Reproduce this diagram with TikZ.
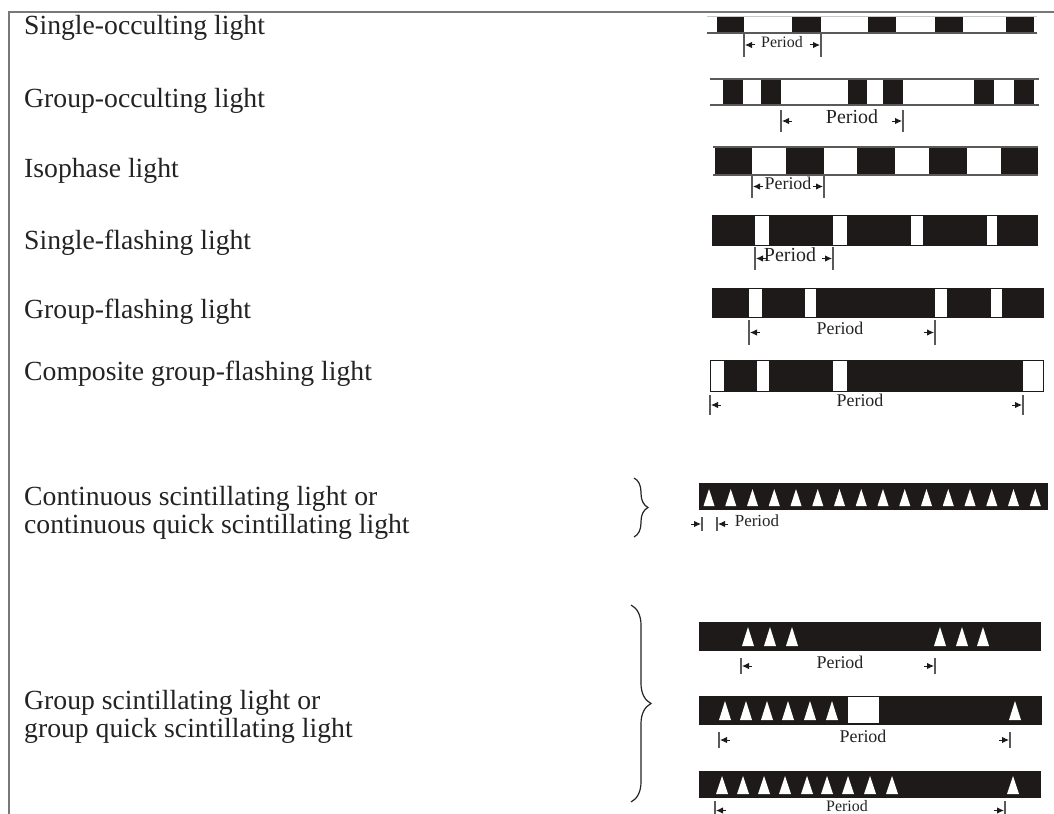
\documentclass[tikz,border=0pt]{standalone}
\usepackage{fontspec}
\setmainfont{Liberation Serif}
\usetikzlibrary{arrows.meta,decorations.pathreplacing}

\definecolor{ink}{RGB}{30,26,26}
\definecolor{framegray}{RGB}{120,120,120}
\definecolor{rulegray}{RGB}{90,90,90}
\definecolor{txt}{RGB}{35,35,35}

\tikzset{
  block/.style={fill=ink},
  gap/.style={fill=white},
  lamp/.style={fill=white},
  barline/.style={draw=rulegray, line width=1.2bp},
  faintline/.style={draw=black!22, line width=1bp},
  outline/.style={draw=ink, line width=1bp},
  tickline/.style={draw=rulegray, line width=1.1bp},
  parrow/.style={draw=ink, line width=1bp, -{Latex[length=7bp,width=6.5bp]}},
  caption/.style={font=\fontsize{27.8}{28}\selectfont, text=txt, inner sep=0pt,
                  anchor=base west, align=left},
  plabel/.style={font=\fontsize{#1}{#1}\selectfont, text=txt, inner sep=0pt, anchor=mid},
  bracket/.style={draw=txt, line width=1.2bp, decorate,
                  decoration={brace, amplitude=#1}},
}

% ticks at x=#1 and x=#2 between y=#3 and y=#4, arrows pointing out to the ticks
\newcommand\PeriodMarks[4]{%
  \draw[tickline] (#1,#3) -- (#1,#4);
  \draw[tickline] (#2,#3) -- (#2,#4);
  \draw[parrow] (#1+11,{(#3+#4)/2}) -- (#1+1,{(#3+#4)/2});
  \draw[parrow] (#2-11,{(#3+#4)/2}) -- (#2-1,{(#3+#4)/2});
}

\begin{document}
\begin{tikzpicture}[x=1bp,y=-1bp]
\useasboundingbox (0,0) rectangle (1054,814);
\clip (0,0) rectangle (1054,814);

% page frame
\draw[framegray, line width=2bp] (9,816) -- (9,12) -- (1056,12);

% ---------- captions ----------
\node[caption] (c1) at (24,35)  {Single-occulting light};
\node[caption] (c2) at (24,107) {Group-occulting light};
\node[caption] (c3) at (24,177) {Isophase light};
\node[caption] (c4) at (24,249) {Single-flashing light};
\node[caption] (c5) at (24,318) {Group-flashing light};
\node[caption] (c6) at (24,380) {Composite group-flashing light};
\node[caption] (c7) at (24,533) {Continuous scintillating light or\\continuous quick scintillating light};
\node[caption] (c8) at (24,737) {Group scintillating light or\\group quick scintillating light};

% ---------- single-occulting ----------
\draw[faintline] (707,17) -- (1037,17);
\foreach \a/\b in {717/744,792/821,868/896,935/963,1006/1034}
  \fill[block] (\a,17) rectangle (\b,33);
\draw[barline] (707,33) -- (1037,33);
\PeriodMarks{744}{821}{33}{57}
\node[plabel=16] (p1) at (782,45) {Period};

% ---------- group-occulting ----------
\foreach \a/\b in {723/743,761/781,848/867,883/903,974/994,1014/1034}
  \fill[block] (\a,79) rectangle (\b,105);
\draw[barline] (710,79) -- (1039,79);
\draw[barline] (710,105) -- (1039,105);
\PeriodMarks{781}{903}{110}{132}
\node[plabel=20] (p2) at (852,121) {Period};

% ---------- isophase ----------
\foreach \a/\b in {715/752,786/824,857/895,929/967,1001/1038}
  \fill[block] (\a,147) rectangle (\b,175);
\draw[barline] (713,147) -- (1038,147);
\draw[barline] (713,175) -- (1038,175);
\PeriodMarks{752}{824}{175}{198}
\node[plabel=18] (p3) at (788,187) {Period};

% ---------- single-flashing ----------
\fill[block] (712,215) rectangle (1037,245);
\foreach \a/\b in {755/769,833/847,911/923,987/997}
  \fill[gap] (\a,215) rectangle (\b,245);
\draw[outline] (712,215) rectangle (1037,245);
\PeriodMarks{755}{833}{247}{270}
\node[plabel=20] (p4) at (790,259) {Period};

% ---------- group-flashing ----------
\fill[block] (712,288) rectangle (1043,317);
\foreach \a/\b in {749/762,805/816,935/947,991/1002}
  \fill[gap] (\a,288) rectangle (\b,317);
\draw[outline] (712,288) rectangle (1043,317);
\PeriodMarks{749}{935}{320}{345}
\node[plabel=18] (p5) at (840,332) {Period};

% ---------- composite group-flashing ----------
\fill[block] (710,360) rectangle (1043,391);
\foreach \a/\b in {710/724,757/769,833/847,1023/1043}
  \fill[gap] (\a,360) rectangle (\b,391);
\draw[outline] (710,360) rectangle (1043,391);
\PeriodMarks{710}{1023}{395}{415}
\node[plabel=18] (p6) at (860,404) {Period};

% ---------- continuous scintillating ----------
\draw[bracket=14bp] (634,478) -- (634,537);
\fill[block] (699,483) rectangle (1048,510);
\foreach \i in {0,...,15}
  \fill[lamp] ({709+21.75*\i-5.5},506) -- ({709+21.75*\i+5.5},506) -- ({709+21.75*\i},489) -- cycle;
\draw[tickline] (702,517) -- (702,531);
\draw[tickline] (717,517) -- (717,531);
\draw[parrow] (691,524) -- (701,524);
\draw[parrow] (728,524) -- (718,524);
\node[plabel=17] (p7) at (757,524) {Period};

% ---------- group scintillating ----------
\draw[bracket=20bp] (631,605) -- (631,802);

\fill[block] (699,622) rectangle (1041,651);
\foreach \c in {748,770,792,940,962,983}
  \fill[lamp] (\c-6,646) -- (\c+6,646) -- (\c,627) -- cycle;
\PeriodMarks{741}{935}{658}{674}
\node[plabel=18] (p8) at (840,666) {Period};

\fill[block] (699,696) rectangle (1041,724);
\foreach \c in {725,746,767,788,810,832,1015}
  \fill[lamp] (\c-6,720) -- (\c+6,720) -- (\c,701) -- cycle;
\fill[gap] (848,697) rectangle (879,723);
\draw[outline] (699,696) rectangle (1041,724);
\PeriodMarks{719}{1010}{732}{748}
\node[plabel=18] (p9) at (863,740) {Period};

\fill[block] (699,771) rectangle (1041,798);
\foreach \c in {722,743,764,785,807,827,848,870,892,1013}
  \fill[lamp] (\c-6,794) -- (\c+6,794) -- (\c,776) -- cycle;
\PeriodMarks{715}{1005}{801}{820}
\node[plabel=16, anchor=base] (p10) at (847,811) {Period};
\end{tikzpicture}
\end{document}
